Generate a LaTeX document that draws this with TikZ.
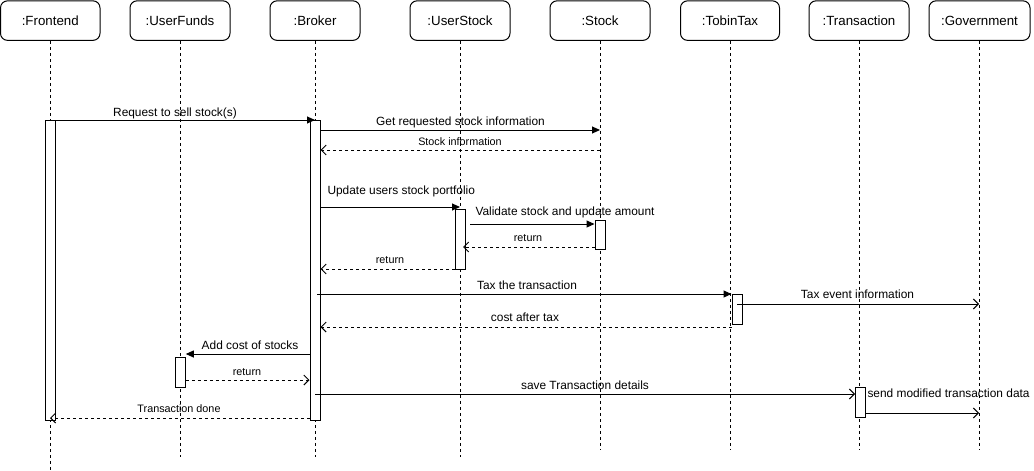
\documentclass[tikz,border=0pt]{standalone}
\usepackage{fontspec}
\setmainfont{Liberation Sans}
\usetikzlibrary{arrows.meta}
\begin{document}
\begin{tikzpicture}[x=1pt,y=-1pt,line width=1pt,
  head/.style={draw,rounded corners=7pt,minimum width=100pt,minimum height=39.5pt,inner sep=0pt,font=\fontsize{13.3}{15}\selectfont},
  life/.style={dash pattern=on 3pt off 3pt,line width=0.9pt},
  act/.style={draw,fill=white,minimum width=10pt,inner sep=0pt},
  sync/.style={-{Triangle[length=8pt,width=7pt]}},
  async/.style={-{Straight Barb[length=5pt,width=10pt]}},
  ret/.style={dash pattern=on 3pt off 3pt,-{Straight Barb[length=5pt,width=10pt]}},
  lbl/.style={anchor=base,inner sep=0pt,font=\fontsize{11.9}{14}\selectfont},
  slbl/.style={anchor=base,inner sep=0pt,font=\fontsize{10.8}{13}\selectfont}]
\useasboundingbox (0,0) rectangle (1034,471);
% headers
\node[head,minimum width=99.5pt] (hF) at (50.25,20.6) {:Frontend};
\node[head] (hUF) at (180,20.6) {:UserFunds};
\node[head,minimum width=90pt] (hB) at (315,20.6) {:Broker};
\node[head] (hU) at (460,20.6) {:UserStock};
\node[head] (hS) at (600,20.6) {:Stock};
\node[head,minimum width=99pt] (hT) at (730,20.6) {:TobinTax};
\node[head] (hX) at (859,20.6) {:Transaction};
\node[head,minimum width=101pt] (hG) at (979.5,20.6) {:Government};
% lifeline ends
\coordinate (eF) at (50,470);
\coordinate (eUF) at (180,457);
\coordinate (eB) at (315,457);
\coordinate (eU) at (460,457);
\coordinate (eS) at (600,450);
\coordinate (eT) at (730,450);
\coordinate (eX) at (859,450);
\coordinate (eG) at (979,450);
\draw[life] (hF.south -| eF) -- (eF);
\draw[life] (hUF.south -| eUF) -- (eUF);
\draw[life] (hB.south -| eB) -- (eB);
\draw[life] (hU.south -| eU) -- (eU);
\draw[life] (hS.south -| eS) -- (eS);
\draw[life] (hT.south -| eT) -- (eT);
\draw[life] (hX.south -| eX) -- (eX);
\draw[life] (hG.south -| eG) -- (eG);
% activations
\node[act,minimum height=300pt] (aF) at (50,270) {};
\node[act,minimum height=300pt] (aB) at (315,270) {};
\node[act,minimum height=60pt] (aU) at (460.5,239) {};
\node[act,minimum height=29pt] (aS) at (600,234.5) {};
\node[act,minimum height=30pt] (aT) at (737,309) {};
\node[act,minimum height=30pt] (aUF) at (180.3,372) {};
\node[act,minimum height=30pt] (aX) at (860.5,402) {};
% messages
\draw[sync] (aF.east |- 0,120) -- (aB.center |- 0,120);
\node[lbl] (m1) at (175,116.5) {Request to sell stock(s)};
\draw[sync] (aB.east |- 0,130) -- (eS |- 0,130);
\node[lbl] (m2) at (460.5,125) {Get requested stock information};
\draw[ret] (eS |- 0,150) -- (aB.east |- 0,150);
\node[slbl] (m3) at (460,145) {Stock information};
\draw[sync] (aB.east |- 0,207) -- (eU |- 0,207);
\node[lbl,anchor=base west] (m4) at (327,194.3) {Update users stock portfolio};
\draw[sync] (470,224) -- (aS.west |- 0,224);
\node[lbl,anchor=base west] (m5) at (475,215.7) {Validate stock and update amount};
\draw[ret] (aS.west |- 0,247) -- (463,247);
\node[slbl] (m6) at (528,241.7) {return};
\draw[ret] (aU.west |- 0,269) -- (aB.east |- 0,269);
\node[slbl] (m7) at (390,263.3) {return};
\draw[sync] (317,294) -- (aT.west |- 0,294);
\node[lbl] (m8) at (527,289) {Tax the transaction};
\draw[async] (aT.center |- 0,304) -- (eG |- 0,304);
\node[lbl] (m9) at (857.5,298.3) {Tax event information};
\draw[ret] (aT.west |- 0,327) -- (aB.east |- 0,327);
\node[lbl] (m10) at (525,321.7) {cost after tax};
\draw[sync] (aB.west |- 0,354) -- (aUF.east |- 0,354);
\node[lbl] (m11) at (250,349) {Add cost of stocks};
\draw[ret] (aUF.east |- 0,380) -- (aB.west |- 0,380);
\node[slbl] (m12) at (247,375) {return};
\draw[async] (aB.center |- 0,394) -- (aX.west |- 0,394);
\node[lbl] (m13) at (585,389) {save Transaction details};
\draw[async] (aX.east |- 0,413) -- (eG |- 0,413);
\node[lbl,anchor=base west] (m14) at (867,397.3) {send modified transaction data};
\draw[ret] (aB.west |- 0,418) -- (eF |- 0,418);
\node[slbl] (m15) at (179,412) {Transaction done};
\end{tikzpicture}
\end{document}
